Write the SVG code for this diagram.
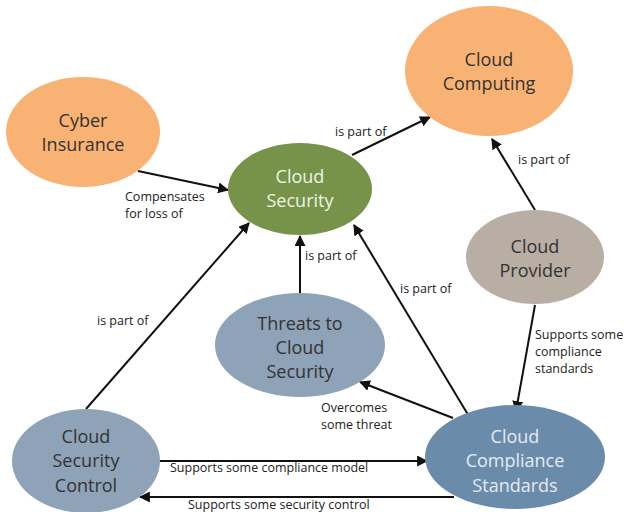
<svg xmlns="http://www.w3.org/2000/svg" width="624" height="512" viewBox="0 0 624 512">
<style>
.n{font-family:"Open Sans","Liberation Sans",sans-serif;font-size:18px;text-anchor:middle;fill:#333}
.lt{fill:#EEF3E2}
.lb{fill:#E4EBF3}
.l{font-family:"Open Sans","Liberation Sans",sans-serif;font-size:12.5px;fill:#222}
.e{stroke:#111;stroke-width:2;fill:none;marker-end:url(#a)}
</style>
<defs>
<marker id="a" viewBox="0 0 10 10" refX="9" refY="5" markerWidth="5.5" markerHeight="5.5" orient="auto" markerUnits="strokeWidth">
<path d="M0,0 L10,5 L0,10 z" fill="#111"/>
</marker>
</defs>
<rect width="624" height="512" fill="#fff"/>
<g id="edges">
<line class="e" x1="138" y1="171" x2="228" y2="190"/>
<line class="e" x1="352" y1="155" x2="430" y2="117"/>
<line class="e" x1="535" y1="210" x2="492" y2="139"/>
<line class="e" x1="300" y1="293" x2="300" y2="236"/>
<line class="e" x1="470" y1="418" x2="354" y2="225"/>
<line class="e" x1="86" y1="409" x2="249" y2="223"/>
<line class="e" x1="535" y1="305" x2="516" y2="411"/>
<line class="e" x1="453" y1="418" x2="360" y2="382"/>
<line class="e" x1="160" y1="461" x2="427" y2="461"/>
<line class="e" x1="454" y1="497" x2="140" y2="497"/>
<text class="l" x="125" y="201">Compensates</text>
<text class="l" x="125" y="218">for loss of</text>
<text class="l" x="335" y="136">is part of</text>
<text class="l" x="518" y="164">is part of</text>
<text class="l" x="305" y="260">is part of</text>
<text class="l" x="400" y="293">is part of</text>
<text class="l" x="97" y="325">is part of</text>
<text class="l" x="535" y="339">Supports some</text>
<text class="l" x="535" y="356">compliance</text>
<text class="l" x="535" y="373">standards</text>
<text class="l" x="321" y="412">Overcomes</text>
<text class="l" x="321" y="429">some threat</text>
<text class="l" x="170" y="472">Supports some compliance model</text>
<text class="l" x="188" y="509">Supports some security control</text>
</g>
<g id="cloud-computing">
<ellipse cx="489" cy="71" rx="84" ry="65" fill="#F8B274"/>
<text class="n" x="489" y="66">Cloud</text>
<text class="n" x="489" y="90">Computing</text>
</g>
<g id="cyber-insurance">
<ellipse cx="83" cy="132" rx="77" ry="55" fill="#F8B274"/>
<text class="n" x="83" y="127">Cyber</text>
<text class="n" x="83" y="151">Insurance</text>
</g>
<g id="cloud-security">
<ellipse cx="300" cy="189" rx="72" ry="46" fill="#77934A"/>
<text class="n lt" x="300" y="183">Cloud</text>
<text class="n lt" x="300" y="207">Security</text>
</g>
<g id="cloud-provider">
<ellipse cx="535" cy="257" rx="69" ry="47" fill="#B9AEA3"/>
<text class="n" x="535" y="253">Cloud</text>
<text class="n" x="535" y="277">Provider</text>
</g>
<g id="threats">
<ellipse cx="300" cy="345" rx="85" ry="52" fill="#8EA2B8"/>
<text class="n" x="300" y="330">Threats to</text>
<text class="n" x="300" y="354">Cloud</text>
<text class="n" x="300" y="378">Security</text>
</g>
<g id="cloud-security-control">
<ellipse cx="86" cy="461" rx="74" ry="52" fill="#8EA2B8"/>
<text class="n" x="86" y="443">Cloud</text>
<text class="n" x="86" y="467">Security</text>
<text class="n" x="86" y="492">Control</text>
</g>
<g id="cloud-compliance-standards">
<ellipse cx="515" cy="457" rx="90" ry="52" fill="#6B8BAA"/>
<text class="n lb" x="515" y="443">Cloud</text>
<text class="n lb" x="515" y="467">Compliance</text>
<text class="n lb" x="515" y="492">Standards</text>
</g>
</svg>
